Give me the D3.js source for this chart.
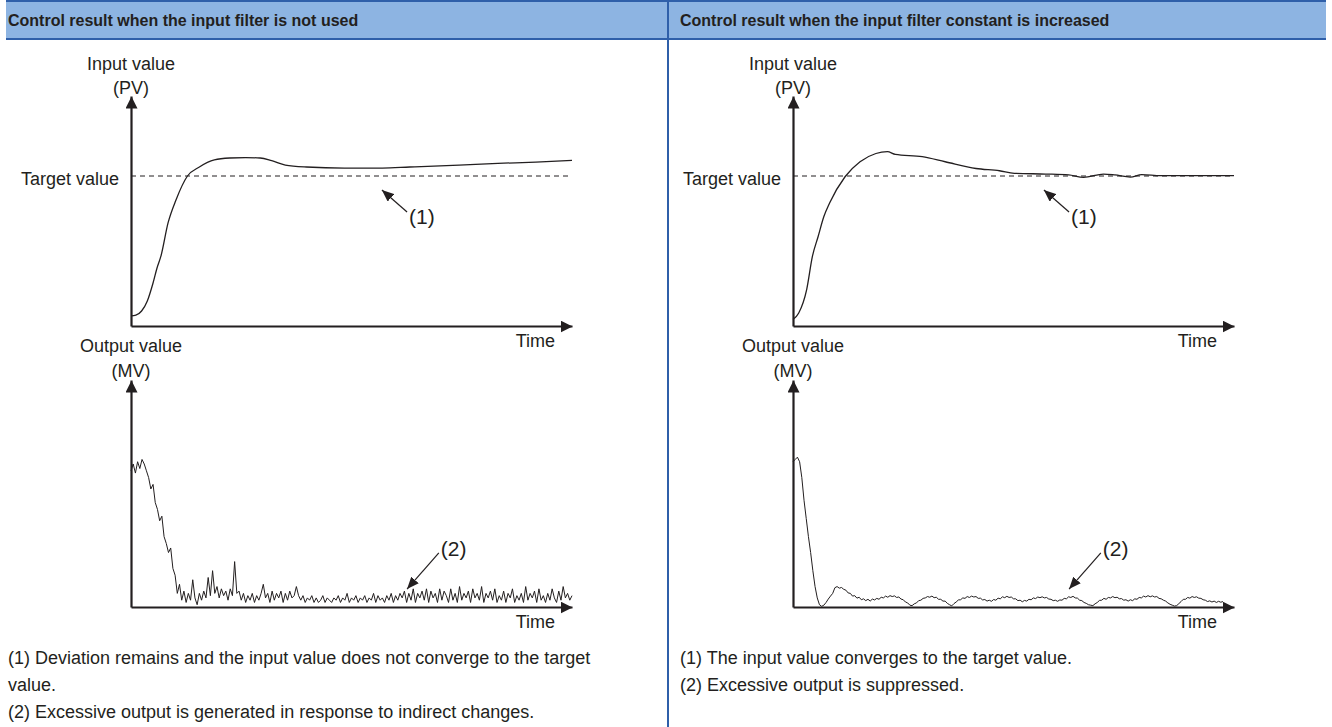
<!DOCTYPE html>
<html><head><meta charset="utf-8">
<script src="https://cdn.jsdelivr.net/npm/d3@7"></script>
<style>
body{margin:0;background:#fff}
svg{display:block}
text{font-family:"Liberation Sans",Arial,Helvetica,sans-serif;fill:#231f20}
</style>
</head><body>
<svg id="chart" width="1332" height="727"></svg>
<script>
// ---------------- DATA ----------------
const panelTitles = ["Control result when the input filter is not used",
                     "Control result when the input filter constant is increased"];
const topAxisLabel = ["Input value", "(PV)"];
const bottomAxisLabel = ["Output value", "(MV)"];
const targetLabel = "Target value";
const timeLabel = "Time";
const targetValue = 100;

// Input value (PV), left panel: time / value
const pvLeftTime  = [0, 1.1, 2.4, 3.7, 5, 5.9, 6.8, 8.4, 10.2, 12.8, 15.5, 18.9, 22.4, 26, 29.3, 31.9, 35, 39.8, 48.4, 57, 63.2, 74.4, 83.2, 91.8, 100];
const pvLeftValue = [6.7, 7.2, 10, 16.7, 28.7, 38.7, 46.7, 68.7, 84, 100, 106, 110.7, 112, 112.3, 112, 110.2, 107.3, 106, 105.3, 105.3, 106, 107.3, 108.4, 109.3, 110.4];

// Input value (PV), right panel
const pvRightTime  = [0, 1.3, 3.1, 4.4, 5.7, 7, 8.3, 11.8, 15.2, 18.8, 21.4, 23.2, 29.3, 34.5, 41.5, 46.8, 50.2, 57.3, 62.5, 65.9, 70.4, 73, 76.5, 79.1, 83.4, 92.3, 100];
const pvRightValue = [4.3, 8.7, 24.3, 46.4, 59.7, 73, 82, 99.5, 109.5, 115, 116.2, 114.4, 112.9, 109.5, 105, 103.5, 101.8, 101.3, 100.7, 99.1, 101.3, 100.7, 99.3, 100.9, 100.2, 100.2, 100.2];

// Output value (MV), sampled every 0.5 time units
const mvStep = 0.5;
const mvLeftValue = [60,63,59,64,61,65,63, 60,57,52,54,46,43,38,40,31,28,24,26,17,14,6,10,3,7,
 2,6,3,12,4,1,6,3,7,4, 13,5,16,6,9,4,8,5,7,3, 8,5,20,6,7,3,6,2,5,3, 6,2,5,3,6,10,4,6,2,7, 3,6,4,7,2,6,3,7,4,5, 9,5,
 3,5,2,4,3,5,2,4,2,3, 5,2,4,3,2,4,3,5,2,4, 3,6,2,4,3,5,2,4,3,5, 2,4,3,6,2,5,3,4,2,5, 3,6,2,5,3,6,
 4,7,2,6,3,8,2,6,4,7, 3,8,2,7,4,6,2,8,3,7, 5,2,8,3,6,2,9,3,6,4, 7,2,8,4,6,3,9,2,6,4, 7,3,8,2,5,3,7,2,6,4, 8,2,5,3,6,2,9,3,6,4, 7,2,8,3,5,2,6,3,8,4, 2,7,3,9,4,6,3,5];
const mvRightValue = [64,65,66,64,57,47,39,31,24,16,9,4,1,0.3,0.8,2,3.5,4.8,6,8.5,
 9,8.3,8.6,7.8,7.4,6.2,6.0,4.8,5.0,3.9,
 4.3,3.2,3.6,2.8,3.4,2.6,3.5,3.1,3.8,3.4,
 4.3,4.0,4.8,4.3,5.0,4.6,4.9,4.2,4.4,3.5,
 3.2,2.2,1.8,0.8,0.6,1.4,1.8,2.8,3.0,3.8,
 4.0,4.6,4.3,4.8,4.1,4.3,3.4,3.4,2.6,2.6,
 1.6,1.0,0.5,1.5,2.2,3.1,3.2,4.0,3.8,4.6,
 4.2,4.8,4.4,4.6,3.8,3.9,3.1,3.3,2.6,3.0,
 2.5,3.3,3.0,3.9,3.6,4.5,4.1,4.7,4.2,4.4,
 3.6,3.6,2.8,3.0,2.3,2.9,2.6,3.4,3.2,4.0,
 3.7,4.4,4.1,4.5,4.0,4.2,3.5,3.4,2.8,3.0,
 2.5,3.1,3.0,3.8,3.6,4.5,4.2,4.7,4.0,3.9,
 3.0,2.8,2.0,1.6,1.0,0.8,0.6,1.4,2.0,2.9,
 3.0,3.8,3.4,4.2,4.0,4.6,4.1,4.3,3.6,3.7,
 3.0,3.2,2.6,3.2,2.8,3.6,3.4,4.2,4.0,4.8,
 4.4,5.0,4.5,4.9,4.4,4.6,3.8,3.6,3.0,2.6,
 1.8,1.2,0.8,0.4,0.6,1.5,2.4,3.4,3.4,4.2,
 3.9,4.6,4.2,4.5,3.9,3.8,3.2,3.0,2.4,2.7,
 2.2,2.6,2.0,2.5,2.1,2.4];

const notesLeft  = ["(1) Deviation remains and the input value does not converge to the target",
                    "value.",
                    "(2) Excessive output is generated in response to indirect changes."];
const notesRight = ["(1) The input value converges to the target value.",
                    "(2) Excessive output is suppressed."];
const annotationLabels = ["(1)", "(2)"];

// ---------------- LAYOUT ----------------
const svg = d3.select("#chart");
const ink = "#231f20";
const headerFill = "#8db4e2", headerLine = "#2f5fa9";
const panelOffsets = [0, 662];

const defs = svg.append("defs");
defs.append("marker").attr("id","axArrow").attr("viewBox","0 0 12 12")
  .attr("refX",12).attr("refY",6).attr("markerWidth",12).attr("markerHeight",12)
  .attr("markerUnits","userSpaceOnUse").attr("orient","auto")
  .append("path").attr("d","M0,0L12,6L0,12Z").attr("fill",ink);
defs.append("marker").attr("id","noteArrow").attr("viewBox","0 0 12 10")
  .attr("refX",12).attr("refY",5).attr("markerWidth",12).attr("markerHeight",10)
  .attr("markerUnits","userSpaceOnUse").attr("orient","auto")
  .append("path").attr("d","M0,0L12,5L0,10Z").attr("fill",ink);

// header band and dividers
svg.append("rect").attr("x",6).attr("y",1).attr("width",1320).attr("height",38).attr("fill",headerFill);
svg.append("line").attr("x1",6).attr("x2",1326).attr("y1",1).attr("y2",1).attr("stroke",headerLine).attr("stroke-width",2);
svg.append("line").attr("x1",6).attr("x2",1326).attr("y1",39).attr("y2",39).attr("stroke",headerLine).attr("stroke-width",2);
svg.append("line").attr("x1",668).attr("x2",668).attr("y1",0).attr("y2",727).attr("stroke",headerLine).attr("stroke-width",2);

const x = d3.scaleLinear().domain([0,100]).range([131,572]);
const yPV = d3.scaleLinear().domain([0,100]).range([326,176]);
const yPVaxis = d3.scaleLinear().domain([0,153]).range([326,96]);
const yMV = d3.scaleLinear().domain([0,100]).range([607,380]);

const lineGen = (ys) => d3.line().x(d=>x(d[0])).y(d=>ys(d[1]));

function drawPanel(i){
  const g = svg.append("g").attr("transform",`translate(${panelOffsets[i]},0)`);
  g.append("text").attr("x",i===0?8:18).attr("y",26).attr("font-size",16).attr("font-weight","bold")
    .text(panelTitles[i]);

  // ---- top chart ----
  const xAxTop = g.append("g").attr("transform",`translate(0,${yPV(0)})`)
    .call(d3.axisBottom(x).tickValues([]).tickSizeOuter(0));
  xAxTop.select(".domain").attr("stroke",ink).attr("stroke-width",2.2).attr("marker-end","url(#axArrow)");
  const yAxTop = g.append("g").attr("transform",`translate(${x(0)},0)`)
    .call(d3.axisLeft(yPVaxis).tickValues([]).tickSizeOuter(0));
  yAxTop.select(".domain").attr("stroke",ink).attr("stroke-width",2.2).attr("marker-end","url(#axArrow)");

  g.append("line").attr("x1",x(0)).attr("x2",x(100)).attr("y1",yPV(targetValue)).attr("y2",yPV(targetValue))
    .attr("stroke",ink).attr("stroke-width",1).attr("stroke-dasharray","5,4");

  const pvT = i===0?pvLeftTime:pvRightTime, pvV = i===0?pvLeftValue:pvRightValue;
  g.append("path").datum(pvT.map((t,k)=>[t,pvV[k]]))
    .attr("d", lineGen(yPV).curve(d3.curveMonotoneX))
    .attr("fill","none").attr("stroke",ink).attr("stroke-width",1.3);

  g.append("text").attr("x",x(0)).attr("y",70).attr("text-anchor","middle").attr("font-size",18).text(topAxisLabel[0]);
  g.append("text").attr("x",x(0)).attr("y",94).attr("text-anchor","middle").attr("font-size",18).text(topAxisLabel[1]);
  g.append("text").attr("x",x(0)-12).attr("y",yPV(targetValue)+9).attr("text-anchor","end").attr("font-size",18).text(targetLabel);
  g.append("text").attr("x",x(100)-17).attr("y",yPV(0)+21).attr("text-anchor","end").attr("font-size",18).text(timeLabel);

  // annotation (1)
  const a1from = [62.6, 76], a1to = [56.9, 90.7];
  g.append("line").attr("x1",x(a1from[0])).attr("y1",yPV(a1from[1])).attr("x2",x(a1to[0])).attr("y2",yPV(a1to[1]))
    .attr("stroke",ink).attr("stroke-width",1.2).attr("marker-end","url(#noteArrow)");
  g.append("text").attr("x",x(a1from[0])+2).attr("y",yPV(a1from[1])+12).attr("font-size",21).text(annotationLabels[0]);

  // ---- bottom chart ----
  const xAxBot = g.append("g").attr("transform",`translate(0,${yMV(0)})`)
    .call(d3.axisBottom(x).tickValues([]).tickSizeOuter(0));
  xAxBot.select(".domain").attr("stroke",ink).attr("stroke-width",2.2).attr("marker-end","url(#axArrow)");
  const yAxBot = g.append("g").attr("transform",`translate(${x(0)},0)`)
    .call(d3.axisLeft(yMV).tickValues([]).tickSizeOuter(0));
  yAxBot.select(".domain").attr("stroke",ink).attr("stroke-width",2.2).attr("marker-end","url(#axArrow)");

  const mv = i===0?mvLeftValue:mvRightValue;
  g.append("path").datum(mv.map((v,k)=>[k*mvStep, v]))
    .attr("d", lineGen(yMV))
    .attr("fill","none").attr("stroke",ink).attr("stroke-width",1);

  g.append("text").attr("x",x(0)).attr("y",352).attr("text-anchor","middle").attr("font-size",18).text(bottomAxisLabel[0]);
  g.append("text").attr("x",x(0)).attr("y",377).attr("text-anchor","middle").attr("font-size",18).text(bottomAxisLabel[1]);
  g.append("text").attr("x",x(100)-17).attr("y",yMV(0)+21).attr("text-anchor","end").attr("font-size",18).text(timeLabel);

  // annotation (2)
  const a2from = [69.8, 23.8], a2to = [62.6, 7.9];
  g.append("line").attr("x1",x(a2from[0])).attr("y1",yMV(a2from[1])).attr("x2",x(a2to[0])).attr("y2",yMV(a2to[1]))
    .attr("stroke",ink).attr("stroke-width",1.2).attr("marker-end","url(#noteArrow)");
  g.append("text").attr("x",x(a2from[0])+2).attr("y",yMV(a2from[1])+3).attr("font-size",21).text(annotationLabels[1]);

  // notes
  const notes = i===0?notesLeft:notesRight;
  g.selectAll("text.note").data(notes).join("text").attr("class","note")
    .attr("x",i===0?8:18).attr("y",(d,k)=>664+k*27).attr("font-size",18).text(d=>d);
}
drawPanel(0);
drawPanel(1);
</script>
</body></html>
